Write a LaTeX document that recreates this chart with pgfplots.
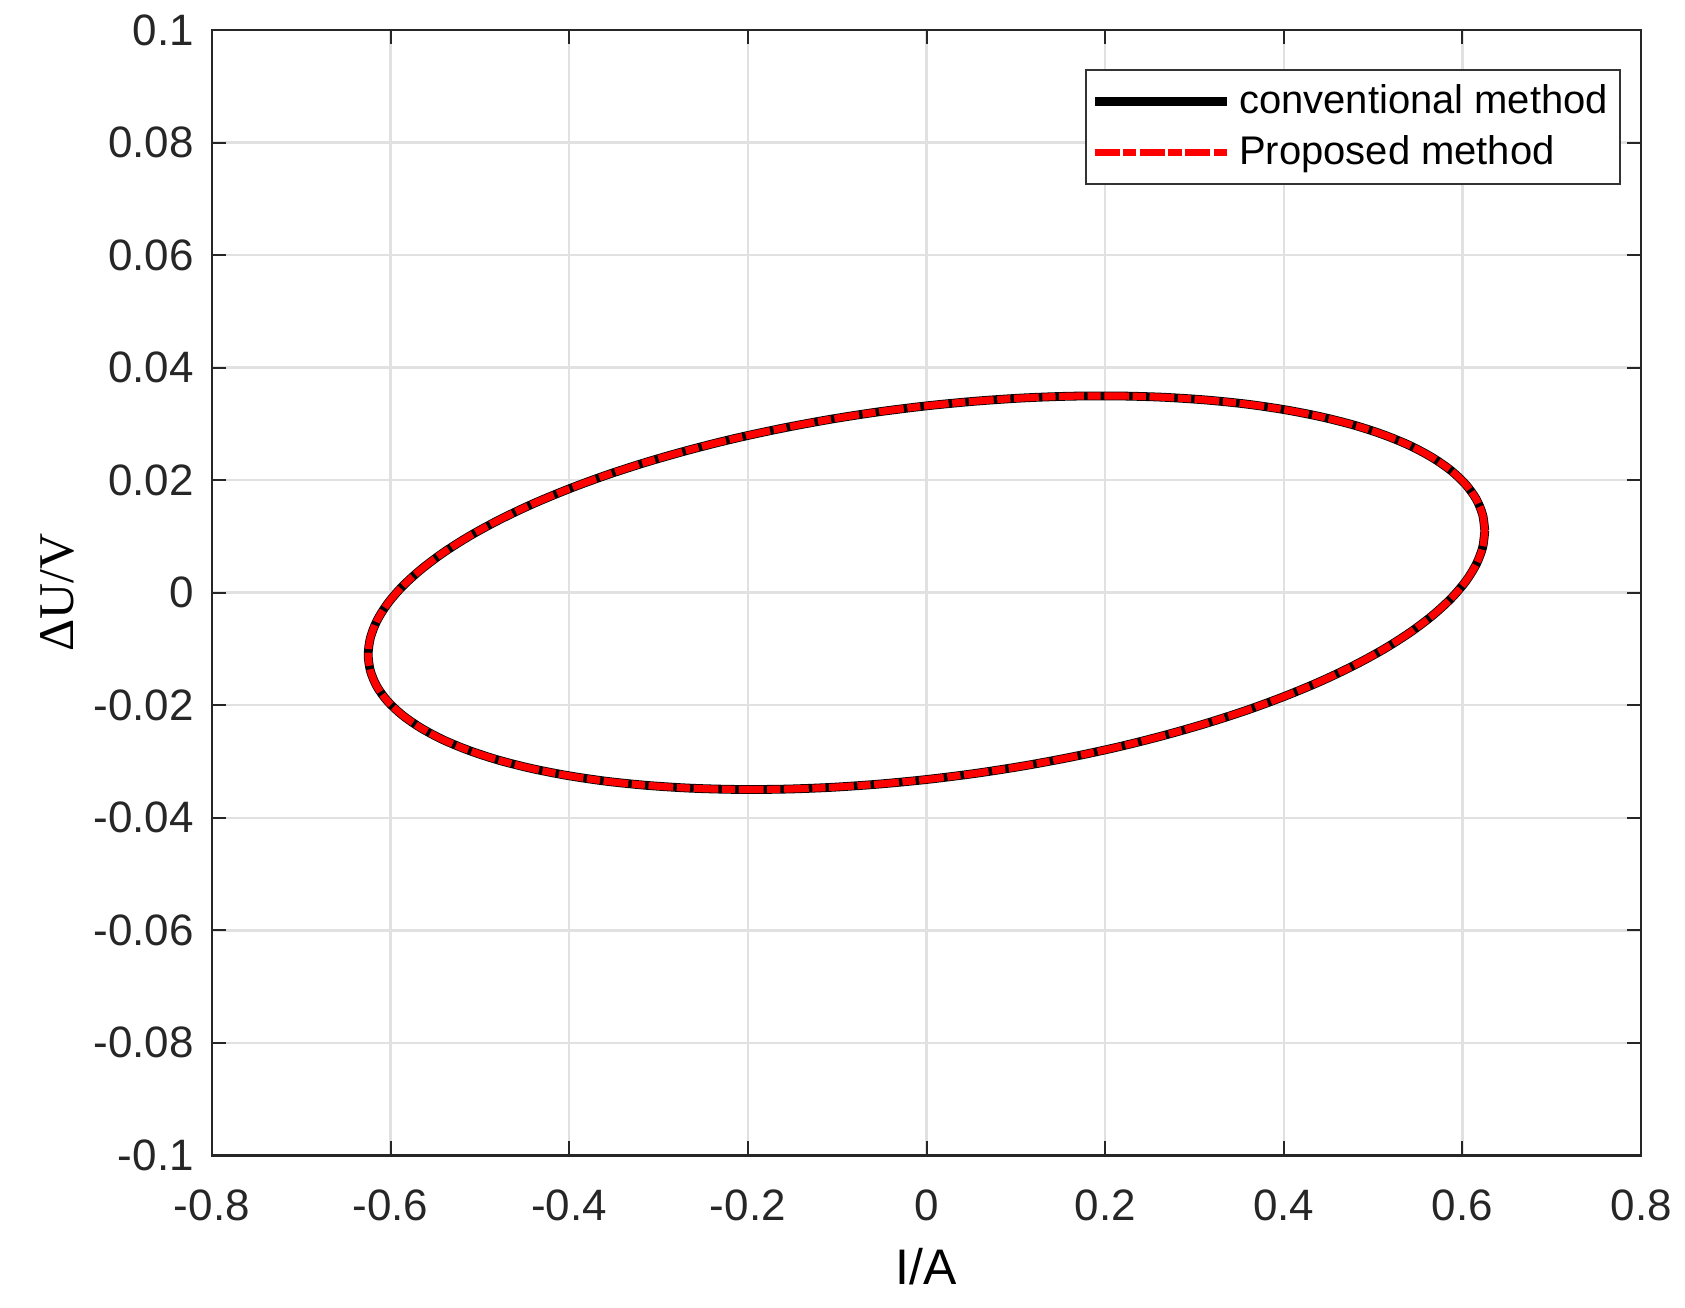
\documentclass[border=0pt]{standalone}
\usepackage{pgfplots}
\usepackage{pgfplotstable}
\pgfplotsset{compat=1.18}
\usepackage{fontspec}
\setmainfont{Liberation Sans}
\newfontfamily\serifTimes{Liberation Serif}
\definecolor{gridgray}{RGB}{225,225,225}
\definecolor{axgray}{RGB}{38,38,38}

\pgfplotstableread{
x y
0.6250 0.01100
0.6226 0.01385
0.6155 0.01660
0.6037 0.01922
0.5873 0.02169
0.5664 0.02400
0.5413 0.02613
0.5120 0.02805
0.4788 0.02977
0.4419 0.03125
0.4017 0.03250
0.3585 0.03351
0.3125 0.03425
0.2641 0.03474
0.2138 0.03496
0.1618 0.03492
0.1085 0.03461
0.0545 0.03403
0.0000 0.03320
-0.0545 0.03212
-0.1085 0.03079
-0.1618 0.02922
-0.2138 0.02744
-0.2641 0.02544
-0.3125 0.02325
-0.3585 0.02089
-0.4017 0.01836
-0.4419 0.01570
-0.4788 0.01291
-0.5120 0.01003
-0.5413 0.00707
-0.5664 0.00406
-0.5873 0.00102
-0.6037 -0.00203
-0.6155 -0.00507
-0.6226 -0.00806
-0.6250 -0.01100
-0.6226 -0.01385
-0.6155 -0.01660
-0.6037 -0.01922
-0.5873 -0.02169
-0.5664 -0.02400
-0.5413 -0.02613
-0.5120 -0.02805
-0.4788 -0.02977
-0.4419 -0.03125
-0.4017 -0.03250
-0.3585 -0.03351
-0.3125 -0.03425
-0.2641 -0.03474
-0.2138 -0.03496
-0.1618 -0.03492
-0.1085 -0.03461
-0.0545 -0.03403
0.0000 -0.03320
0.0545 -0.03212
0.1085 -0.03079
0.1618 -0.02922
0.2138 -0.02744
0.2641 -0.02544
0.3125 -0.02325
0.3585 -0.02089
0.4017 -0.01836
0.4419 -0.01570
0.4788 -0.01291
0.5120 -0.01003
0.5413 -0.00707
0.5664 -0.00406
0.5873 -0.00102
0.6037 0.00203
0.6155 0.00507
0.6226 0.00806
0.6250 0.01100
}\ellipsedata

\begin{document}
\begin{tikzpicture}
\begin{axis}[
  scale only axis,
  width=357.5pt, height=281.5pt,
  xmin=-0.8, xmax=0.8, ymin=-0.1, ymax=0.1,
  xtick={-0.8,-0.6,-0.4,-0.2,0,0.2,0.4,0.6,0.8},
  xticklabels={-0.8,-0.6,-0.4,-0.2,0,0.2,0.4,0.6,0.8},
  ytick={-0.1,-0.08,-0.06,-0.04,-0.02,0,0.02,0.04,0.06,0.08,0.1},
  yticklabels={-0.1,-0.08,-0.06,-0.04,-0.02,0,0.02,0.04,0.06,0.08,0.1},
  tick label style={font=\fontsize{11}{13}\selectfont, text=black!85},
  xticklabel style={yshift=-5pt},
  yticklabel style={xshift=-1pt},
  tick align=inside,
  major tick length=3.5pt,
  tick style={axgray, line width=0.5pt},
  axis line style={axgray, line width=0.6pt},
  grid=major,
  major grid style={gridgray, line width=0.6pt},
  xlabel={I/A},
  xlabel style={font=\fontsize{12.5}{14}\selectfont, yshift=0pt},
  ylabel={{\serifTimes ΔU/V}},
  ylabel style={font=\fontsize{12.5}{14}\selectfont, yshift=-2pt},
  legend style={at={(0.986,0.965)}, anchor=north east, draw=black!80,
    line width=0.5pt,
    font=\fontsize{10}{12}\selectfont, inner xsep=1pt, inner ysep=1.5pt,
    row sep=0pt, cells={anchor=west}},
  legend cell align=left,
  legend image code/.code={\draw[#1] (0pt,0pt) -- (33pt,0pt);},
]
\addplot[black, line width=2.2pt, smooth] table[x=x, y=y] {\ellipsedata};
\addlegendentry{conventional method}
\addplot[red, line width=1.8pt, smooth, dash pattern=on 6.2pt off 0.9pt on 3.3pt off 0.9pt] table[x=x, y=y] {\ellipsedata};
\addlegendentry{Proposed method}
\end{axis}
\path (-53pt,-38pt) rectangle (368pt,289pt);
\end{tikzpicture}
\end{document}
